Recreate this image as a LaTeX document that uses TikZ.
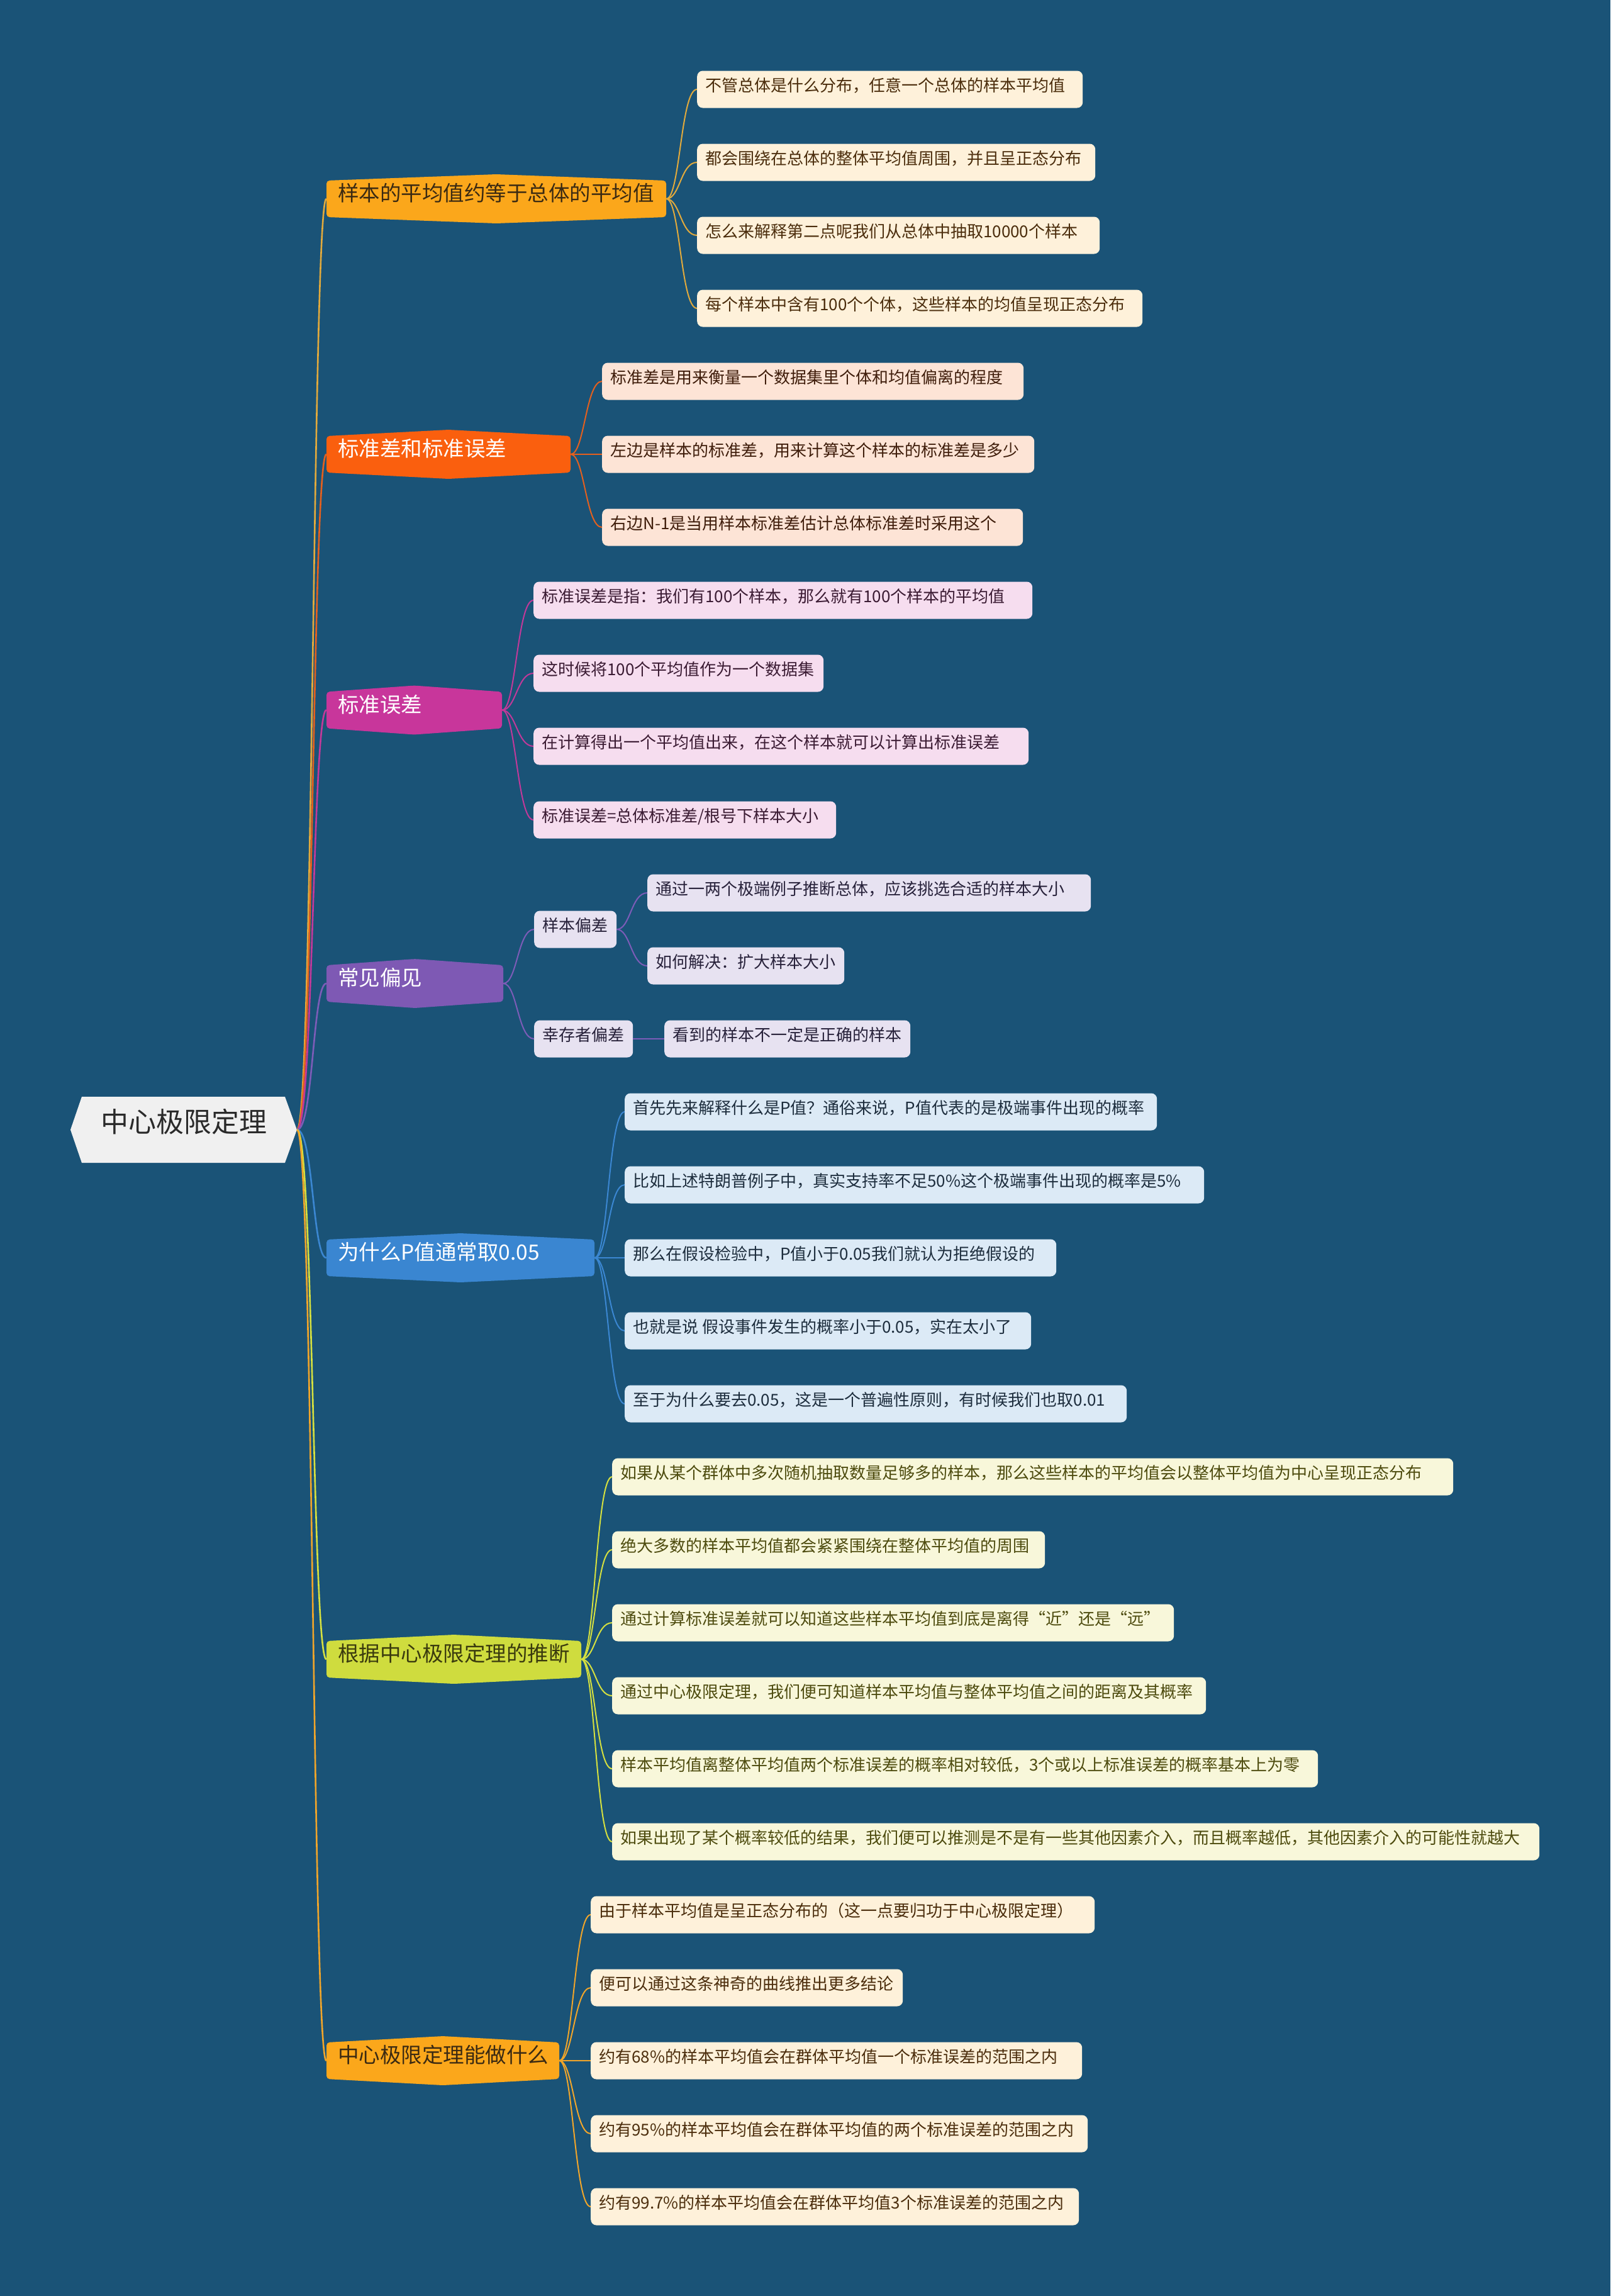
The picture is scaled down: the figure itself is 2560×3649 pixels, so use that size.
\documentclass[tikz,border=0pt]{standalone}
\usepackage{fontspec}
\setmainfont{Noto Sans CJK SC}
\usetikzlibrary{calc}
\definecolor{bgc}{HTML}{1A5377}
\definecolor{rootfill}{HTML}{F0F0F0}
\definecolor{roottext}{HTML}{2A2A2A}
% branch fills
\definecolor{fA}{HTML}{FBA71B}
\definecolor{fB}{HTML}{FA5F0E}
\definecolor{fC}{HTML}{C8369B}
\definecolor{fD}{HTML}{7E59B4}
\definecolor{fE}{HTML}{3A86D1}
\definecolor{fF}{HTML}{CFDC3E}
\definecolor{fG}{HTML}{FBA71B}
% connector colours
\definecolor{cA}{HTML}{E2AA3C}
\definecolor{cB}{HTML}{E4601E}
\definecolor{cC}{HTML}{C2399A}
\definecolor{cD}{HTML}{7D5CB8}
\definecolor{cE}{HTML}{3B87D2}
\definecolor{cF}{HTML}{D5E03F}
\definecolor{cG}{HTML}{F1A52A}
% leaf fills / texts
\definecolor{lA}{HTML}{FEF1DA}
\definecolor{tA}{HTML}{4B2D0C}
\definecolor{lB}{HTML}{FDE4D6}
\definecolor{tB}{HTML}{3F1D0B}
\definecolor{lC}{HTML}{F6DDEF}
\definecolor{tC}{HTML}{3B1B33}
\definecolor{lD}{HTML}{E7E2F1}
\definecolor{tD}{HTML}{27213A}
\definecolor{lE}{HTML}{DCEAF6}
\definecolor{tE}{HTML}{1D2D3D}
\definecolor{lF}{HTML}{F8F7DA}
\definecolor{tF}{HTML}{4D4B0E}
\definecolor{darkbr}{HTML}{3B2A12}
\definecolor{darkol}{HTML}{3A3A0E}

\tikzset{
  branch/.style={inner xsep=18pt, inner ysep=0pt, minimum height=58pt,
    font=\fontsize{33.5}{38}\selectfont, text height=0.86em, text depth=0.12em},
  leaf/.style={anchor=west, rounded corners=9pt, inner xsep=13pt, inner ysep=0pt,
    minimum height=59pt, font=\fontsize{26}{30}\selectfont, text height=0.86em, text depth=0.12em},
  lvA/.style={fill=lA, text=tA},
  lvB/.style={fill=lB, text=tB},
  lvC/.style={fill=lC, text=tC},
  lvD/.style={fill=lD, text=tD},
  lvE/.style={fill=lE, text=tE},
  lvF/.style={fill=lF, text=tF},
  rconn/.style={line width=2.6pt},
  lconn/.style={line width=2pt},
}

\newcommand\mkbranch[7]{%
  \pgfmathsetmacro\brmid{(#2+#3)/2}%
  \pgfmathsetmacro\brw{#3-#2}%
  \pgfmathsetmacro\brtw{#3-#2-36}%
  \fill[#5, rounded corners=5pt] (#2,#4-29) -- (\brmid,#4-39) -- (#3,#4-29) -- (#3,#4+29) -- (\brmid,#4+39) -- (#2,#4+29) -- cycle;
  \node[branch, text=#6, minimum width=\brw pt] (#1) at (\brmid,#4) {\makebox[\brtw pt][l]{#7}};
}
\newcommand\mkleaf[6]{%
  \pgfmathsetmacro\lfw{#3-#2}%
  \pgfmathsetmacro\lftw{#3-#2-26}%
  \node[leaf,#5, minimum width=\lfw pt] (#1) at (#2,#4) {\makebox[\lftw pt][l]{#6}};
}
\newcommand\lk[3]{\draw[lconn,#1] (#2.east) .. controls +(22,0) and +(-26,0) .. (#3.west);}
\newcommand\rk[2]{\draw[rconn,#1] (root.east) .. controls +(26,0) and +(-22,0) .. (#2.west);}

\begin{document}
\begin{tikzpicture}[x=1pt,y=-1pt]
\fill[bgc] (0,0) rectangle (2560,3649);
\useasboundingbox (0,0) rectangle (2560,3649);

% root
\fill[rootfill] (112,1795.5) -- (130,1743) -- (453,1743) -- (472,1795.5) -- (453,1848) -- (130,1848) -- cycle;
\node[font=\fontsize{44}{50}\selectfont, text=roottext, minimum width=360pt, minimum height=105pt, inner sep=0pt, text height=0.86em, text depth=0.12em] (root) at (292,1795.5) {中心极限定理};

% branches
\mkbranch{b1}{519}{1059}{316}{fA}{darkbr}{样本的平均值约等于总体的平均值}
\mkbranch{b2}{519}{907}{722}{fB}{white}{标准差和标准误差}
\mkbranch{b3}{519}{798}{1128.5}{fC}{white}{标准误差}
\mkbranch{b4}{519}{800}{1563}{fD}{white}{常见偏见}
\mkbranch{b5}{519}{945}{1999}{fE}{white}{为什么P值通常取0.05}
\mkbranch{b6}{519}{924}{2637}{fF}{darkol}{根据中心极限定理的推断}
\mkbranch{b7}{519}{889}{3275}{fG}{darkbr}{中心极限定理能做什么}

% leaves branch 1
\mkleaf{l0}{1108}{1721}{142}{lvA}{不管总体是什么分布，任意一个总体的样本平均值}
\mkleaf{l1}{1108}{1741}{258}{lvA}{都会围绕在总体的整体平均值周围，并且呈正态分布}
\mkleaf{l2}{1108}{1748}{374}{lvA}{怎么来解释第二点呢我们从总体中抽取10000个样本}
\mkleaf{l3}{1108}{1816}{490}{lvA}{每个样本中含有100个个体，这些样本的均值呈现正态分布}
% branch 2
\mkleaf{l4}{957}{1627}{606}{lvB}{标准差是用来衡量一个数据集里个体和均值偏离的程度}
\mkleaf{l5}{957}{1644}{722}{lvB}{左边是样本的标准差，用来计算这个样本的标准差是多少}
\mkleaf{l6}{957}{1626}{838}{lvB}{右边N-1是当用样本标准差估计总体标准差时采用这个}
% branch 3
\mkleaf{l7}{848}{1641}{954}{lvC}{标准误差是指：我们有100个样本，那么就有100个样本的平均值}
\mkleaf{l8}{848}{1309}{1070}{lvC}{这时候将100个平均值作为一个数据集}
\mkleaf{l9}{848}{1635}{1186}{lvC}{在计算得出一个平均值出来，在这个样本就可以计算出标准误差}
\mkleaf{l10}{848}{1329}{1303}{lvC}{标准误差=总体标准差/根号下样本大小}
% branch 4
\mkleaf{s1}{849}{980}{1477}{lvD}{样本偏差}
\mkleaf{s2}{849}{1006}{1651}{lvD}{幸存者偏差}
\mkleaf{l11}{1029}{1734}{1419}{lvD}{通过一两个极端例子推断总体，应该挑选合适的样本大小}
\mkleaf{l12}{1029}{1342}{1535}{lvD}{如何解决：扩大样本大小}
\mkleaf{l13}{1056}{1447}{1651}{lvD}{看到的样本不一定是正确的样本}
% branch 5
\mkleaf{l14}{993}{1839}{1767}{lvE}{首先先来解释什么是P值？通俗来说，P值代表的是极端事件出现的概率}
\mkleaf{l15}{993}{1914}{1883}{lvE}{比如上述特朗普例子中，真实支持率不足50\%这个极端事件出现的概率是5\%}
\mkleaf{l16}{993}{1679}{1999}{lvE}{那么在假设检验中，P值小于0.05我们就认为拒绝假设的}
\mkleaf{l17}{993}{1639}{2115}{lvE}{也就是说 假设事件发生的概率小于0.05，实在太小了}
\mkleaf{l18}{993}{1791}{2231}{lvE}{至于为什么要去0.05，这是一个普遍性原则，有时候我们也取0.01}
% branch 6
\mkleaf{l19}{973}{2310}{2347}{lvF}{如果从某个群体中多次随机抽取数量足够多的样本，那么这些样本的平均值会以整体平均值为中心呈现正态分布}
\mkleaf{l20}{973}{1661}{2463}{lvF}{绝大多数的样本平均值都会紧紧围绕在整体平均值的周围}
\mkleaf{l21}{973}{1866}{2579}{lvF}{通过计算标准误差就可以知道这些样本平均值到底是离得“近”还是“远”}
\mkleaf{l22}{973}{1917}{2695}{lvF}{通过中心极限定理，我们便可知道样本平均值与整体平均值之间的距离及其概率}
\mkleaf{l23}{973}{2095}{2811}{lvF}{样本平均值离整体平均值两个标准误差的概率相对较低，3个或以上标准误差的概率基本上为零}
\mkleaf{l24}{973}{2447}{2927}{lvF}{如果出现了某个概率较低的结果，我们便可以推测是不是有一些其他因素介入，而且概率越低，其他因素介入的可能性就越大}
% branch 7
\mkleaf{l25}{939}{1740}{3043}{lvA}{由于样本平均值是呈正态分布的（这一点要归功于中心极限定理）}
\mkleaf{l26}{939}{1435}{3159}{lvA}{便可以通过这条神奇的曲线推出更多结论}
\mkleaf{l27}{939}{1720}{3275}{lvA}{约有68\%的样本平均值会在群体平均值一个标准误差的范围之内}
\mkleaf{l28}{939}{1729}{3391}{lvA}{约有95\%的样本平均值会在群体平均值的两个标准误差的范围之内}
\mkleaf{l29}{939}{1715}{3507}{lvA}{约有99.7\%的样本平均值会在群体平均值3个标准误差的范围之内}

% root connectors
\rk{cA}{b1}
\rk{cB}{b2}
\rk{cC}{b3}
\rk{cD}{b4}
\rk{cE}{b5}
\rk{cF}{b6}
\rk{cG}{b7}

% leaf connectors
\lk{cA}{b1}{l0}\lk{cA}{b1}{l1}\lk{cA}{b1}{l2}\lk{cA}{b1}{l3}
\lk{cB}{b2}{l4}\lk{cB}{b2}{l5}\lk{cB}{b2}{l6}
\lk{cC}{b3}{l7}\lk{cC}{b3}{l8}\lk{cC}{b3}{l9}\lk{cC}{b3}{l10}
\lk{cD}{b4}{s1}\lk{cD}{b4}{s2}
\lk{cD}{s1}{l11}\lk{cD}{s1}{l12}\lk{cD}{s2}{l13}
\lk{cE}{b5}{l14}\lk{cE}{b5}{l15}\lk{cE}{b5}{l16}\lk{cE}{b5}{l17}\lk{cE}{b5}{l18}
\lk{cF}{b6}{l19}\lk{cF}{b6}{l20}\lk{cF}{b6}{l21}\lk{cF}{b6}{l22}\lk{cF}{b6}{l23}\lk{cF}{b6}{l24}
\lk{cG}{b7}{l25}\lk{cG}{b7}{l26}\lk{cG}{b7}{l27}\lk{cG}{b7}{l28}\lk{cG}{b7}{l29}
\end{tikzpicture}
\end{document}
